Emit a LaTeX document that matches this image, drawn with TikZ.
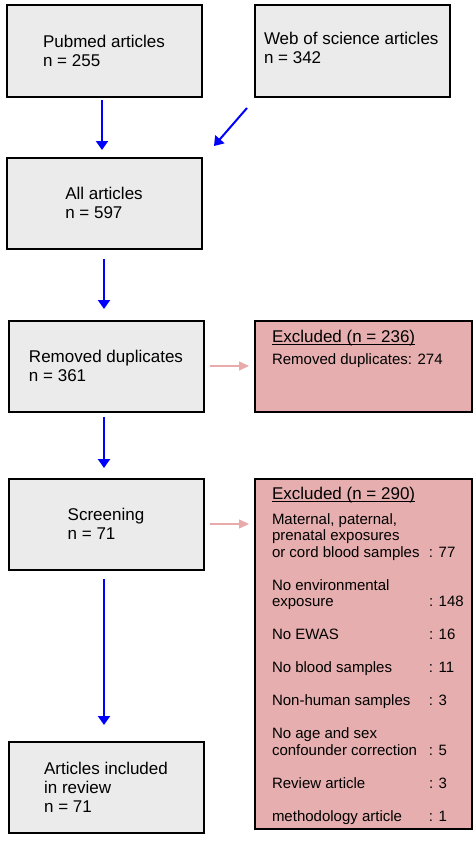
\documentclass[tikz,border=0pt]{standalone}
\usepackage{fontspec}
\setmainfont{Liberation Sans}
\usepackage{xcolor}
\usepackage{tikz}
\usetikzlibrary{
	positioning,
	arrows.meta
}
\definecolor{boxgrey}{HTML}{EBEBEB}
\definecolor{exclpink}{HTML}{E6AEAE}
\definecolor{arrpink}{HTML}{E8AAAA}
\definecolor{arrblue}{HTML}{0000FF}
\newcommand{\bigtxt}{\fontsize{17}{19}\selectfont}
\newcommand{\smalltxt}{\fontsize{15}{16.5}\selectfont}
\newcommand{\exhead}[1]{\setbox0=\hbox{#1}\rlap{\rule[-2.5pt]{\wd0}{1pt}}\box0}

\begin{document}
\begin{tikzpicture}[x=1pt,y=-1pt,
		box/.style={draw,line width=2pt,fill=boxgrey,minimum width=195pt,minimum height=91pt,inner sep=0pt,outer sep=0pt,align=left,font=\bigtxt},
		exbox/.style={box,fill=exclpink,minimum width=217pt},
		txt/.style={anchor=base west,inner sep=0pt,outer sep=0pt},
		flow/.style={draw=arrblue,line width=2pt,-{Triangle[width=12pt,length=9pt]}},
		drop/.style={draw=arrpink,line width=1.5pt,-{Triangle[width=9pt,length=10pt]}}
	]
		\useasboundingbox (0,0) rectangle (476,843);
		\draw
			(104,51) node[box]                       (pubmed)   {Pubmed articles\\n = 255}
			node[box,right=53pt of pubmed]           (wos)      {}
			node[box,below=61pt of pubmed]           (all)      {All articles\\n = 597}
			node[box,below=72pt of all,xshift=2pt]   (dup)      {Removed duplicates\\n = 361}
			node[exbox,right=51pt of dup]            (exdup)    {}
			node[box,below=67pt of dup]              (screen)   {Screening\\n = 71}
			node[exbox,minimum height=350pt,anchor=north west] (exscreen) at ([xshift=51pt]screen.north east) {}
			node[box,below=172pt of screen]          (incl)     {Articles included\\in review\\n = 71}

			node[txt,font=\bigtxt] (wostxt) at ([shift={(9.5,39.5)}]wos.north west)
				{\begin{tabular}[t]{@{}l@{}}Web of science articles\\n = 342\end{tabular}}
			node[txt,font=\smalltxt] (exduptxt) at ([shift={(17.5,21.5)}]exdup.north west)
				{\begin{tabular}[t]{@{}l@{}}\bigtxt\exhead{Excluded (n = 236)}\\[5.5pt]
				Removed duplicates: 274\end{tabular}}
			node[txt,font=\smalltxt] (exscreentxt) at ([shift={(17.5,20.5)}]exscreen.north west)
				{\begin{tabular}[t]{@{}p{157pt}@{}l@{}}
				\multicolumn{2}{@{}l@{}}{\bigtxt\exhead{Excluded (n = 290)}}\\[8.5pt]
				Maternal, paternal, & \\
				prenatal exposures & \\
				or cord blood samples & : 77\\[16.5pt]
				No environmental & \\
				exposure & : 148\\[16.5pt]
				No EWAS & : 16\\[16.5pt]
				No blood samples & : 11\\[16.5pt]
				Non-human samples & : 3\\[16.5pt]
				No age and sex & \\
				confounder correction & : 5\\[16.5pt]
				Review article & : 3\\[16.5pt]
				methodology article & : 1
				\end{tabular}}

			([xshift=-2pt]pubmed.south) edge[flow,shorten <=3.5pt,shorten >=7.5pt] ([xshift=-2pt]all.north)
			([shift={(-7.5,11.5)}]wos.south west) edge[flow] ([shift={(12.5,-11.5)}]all.north east)
			(all.south) edge[flow,shorten <=10.5pt,shorten >=11.5pt] (all.south |- dup.north)
			([xshift=-2pt]dup.south) edge[flow,shorten <=5.5pt,shorten >=10.5pt] ([xshift=-2pt]screen.north)
			([xshift=-2pt]screen.south) edge[flow,shorten <=9.5pt,shorten >=16.5pt] ([xshift=-2pt]incl.north)
			(dup.east) edge[drop,shorten <=6.5pt,shorten >=5.5pt] (exdup.west)
			(screen.east) edge[drop,shorten <=6.5pt,shorten >=5.5pt] (screen.east -| exscreen.west)
		;
\end{tikzpicture}
\end{document}
